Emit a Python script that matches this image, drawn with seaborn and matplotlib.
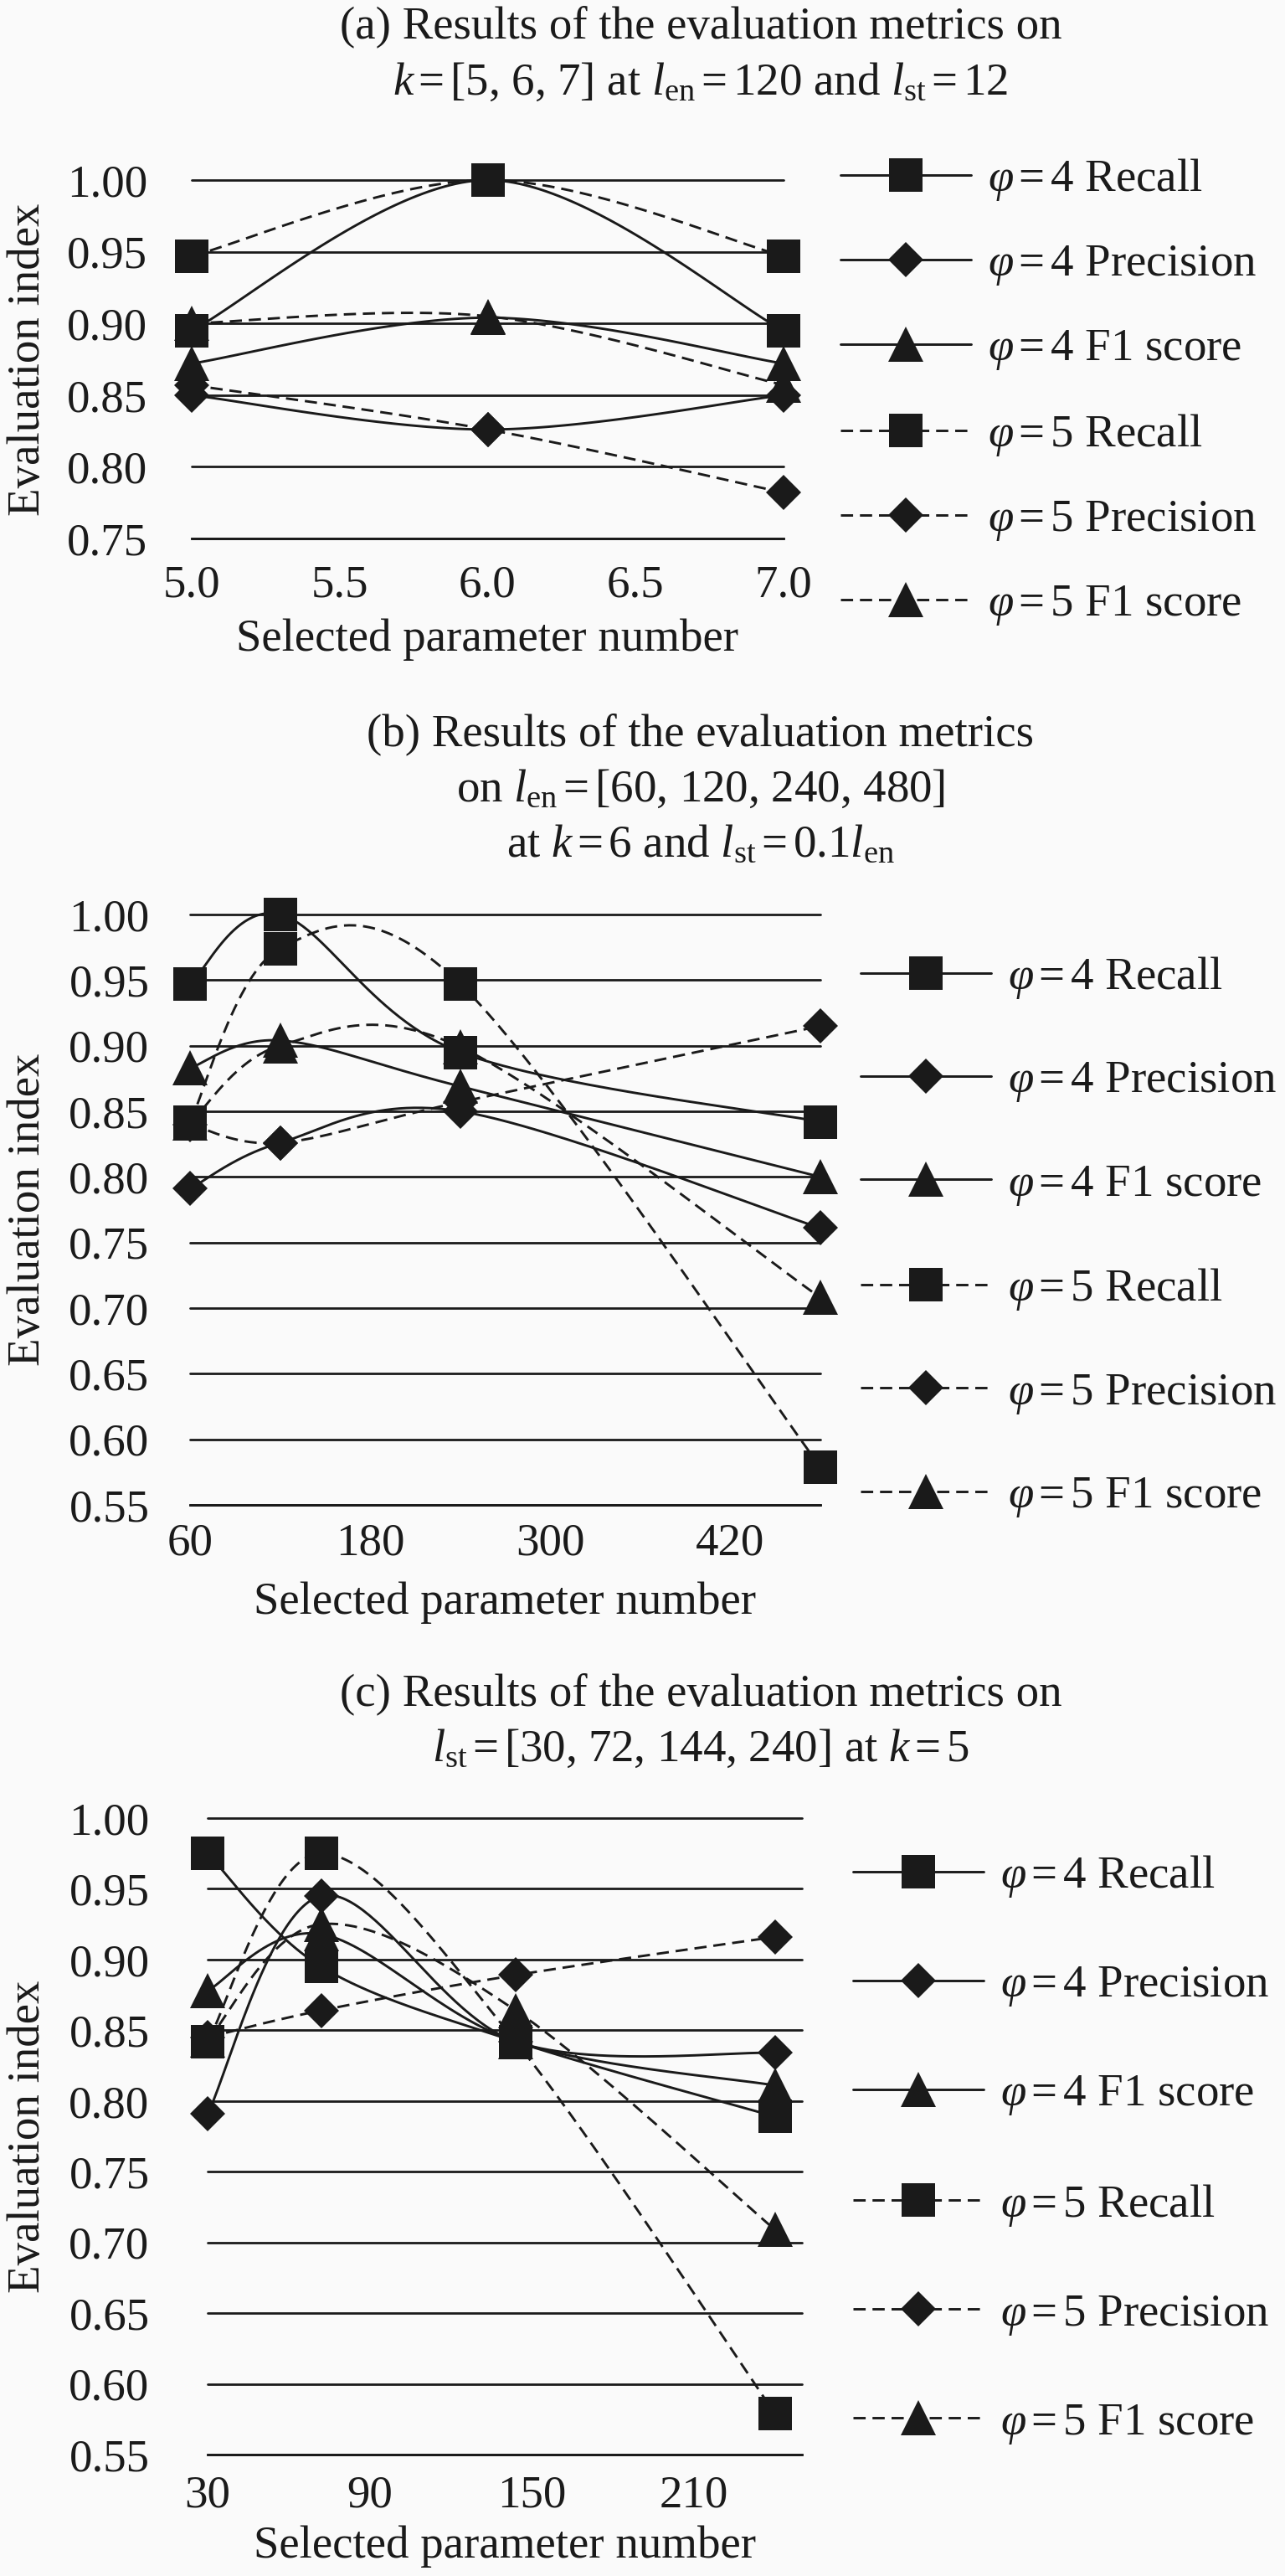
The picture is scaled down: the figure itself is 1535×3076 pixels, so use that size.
import numpy as np
import matplotlib
matplotlib.use("Agg")
import matplotlib.pyplot as plt
from matplotlib.lines import Line2D
import seaborn as sns
import pandas as pd

# ---------------- data ----------------
a_x = [5, 6, 7]
a_recall4 = [0.895, 1.000, 0.895]
a_prec4 = [0.850, 0.826, 0.850]
a_f14 = [0.872, 0.904, 0.872]
a_recall5 = [0.947, 1.000, 0.947]
a_prec5 = [0.857, 0.826, 0.782]
a_f15 = [0.900, 0.905, 0.857]

b_x = [60, 120, 240, 480]
b_recall4 = [0.947, 1.000, 0.895, 0.842]
b_prec4 = [0.791, 0.826, 0.850, 0.761]
b_f14 = [0.883, 0.904, 0.869, 0.800]
b_recall5 = [0.842, 0.974, 0.947, 0.579]
b_prec5 = [0.840, 0.826, 0.857, 0.915]
b_f15 = [0.841, 0.900, 0.899, 0.708]

c_x = [30, 72, 144, 240]
c_recall4 = [0.975, 0.895, 0.842, 0.789]
c_prec4 = [0.791, 0.945, 0.842, 0.834]
c_f14 = [0.878, 0.918, 0.842, 0.811]
c_recall5 = [0.842, 0.975, 0.842, 0.579]
c_prec5 = [0.845, 0.864, 0.889, 0.916]
c_f15 = [0.843, 0.925, 0.864, 0.709]

series_labels = [r"$\varphi\,$=$\,$4 Recall", r"$\varphi\,$=$\,$4 Precision", r"$\varphi\,$=$\,$4 F1 score",
                 r"$\varphi\,$=$\,$5 Recall", r"$\varphi\,$=$\,$5 Precision", r"$\varphi\,$=$\,$5 F1 score"]

a_xticks = [5.0, 5.5, 6.0, 6.5, 7.0]
a_xticklabels = ["5.0", "5.5", "6.0", "6.5", "7.0"]
b_xticks = [60, 180, 300, 420]
c_xticks = [30, 90, 150, 210]
a_yticks = [0.75, 0.80, 0.85, 0.90, 0.95, 1.00]
bc_yticks = [0.55, 0.60, 0.65, 0.70, 0.75, 0.80, 0.85, 0.90, 0.95, 1.00]

titles_a = ["(a) Results of the evaluation metrics on",
            r"$k\,$=$\,$[5, 6, 7] at $l_{\mathrm{en}}\,$=$\,$120 and $l_{\mathrm{st}}\,$=$\,$12"]
titles_b = ["(b) Results of the evaluation metrics",
            r"on $l_{\mathrm{en}}\,$=$\,$[60, 120, 240, 480]",
            r"at $k\,$=$\,$6 and $l_{\mathrm{st}}\,$=$\,$0.1$l_{\mathrm{en}}$"]
titles_c = ["(c) Results of the evaluation metrics on",
            r"$l_{\mathrm{st}}\,$=$\,$[30, 72, 144, 240] at $k\,$=$\,$5"]

# ---------------- style ----------------
sns.set_theme(style="white")
plt.rcParams['font.family'] = ['Liberation Serif', 'DejaVu Serif']
plt.rcParams['mathtext.fontset'] = 'custom'
plt.rcParams['mathtext.rm'] = 'Liberation Serif'
plt.rcParams['mathtext.it'] = 'Liberation Serif:italic'
plt.rcParams['mathtext.bf'] = 'Liberation Serif:bold'

FS = 39.5
FSPX = FS * 100 / 72.0
W, H = 1535, 3076
INK = '#1a1a1a'
BG = '#fafafa'
LW = 2.1
DASH = (0, (5, 2.8))
markers = ['s', 'D', '^', 's', 'D', '^']
msizes = {'s': 29, 'D': 21, '^': 30}
styles = ['-', '-', '-', DASH, DASH, DASH]


def smooth(x, y, n=60):
    pts = np.column_stack([np.asarray(x, float), np.asarray(y, float)])
    P = np.vstack([pts[0], pts, pts[-1]])
    out = []
    t = np.linspace(0, 1, n)[:, None]
    for i in range(1, len(P) - 2):
        p0, p1, p2, p3 = P[i - 1], P[i], P[i + 1], P[i + 2]
        b1 = p1 + (p2 - p0) / 6.0
        b2 = p2 - (p3 - p1) / 6.0
        seg = (1 - t) ** 3 * p1 + 3 * (1 - t) ** 2 * t * b1 + 3 * (1 - t) * t ** 2 * b2 + t ** 3 * p2
        out.append(seg if i == 1 else seg[1:])
    return np.vstack(out)


fig = plt.figure(figsize=(W / 100, H / 100), dpi=100, facecolor=BG)

panels = [
    dict(x=a_x, ys=[a_recall4, a_prec4, a_f14, a_recall5, a_prec5, a_f15],
         left=229, right=936, top=215, bottom=643, xlim=(5, 7), ylim=(0.75, 1.0),
         xticks=a_xticks, xticklabels=a_xticklabels, yticks=a_yticks,
         ypad=38, xpad=22, xlab_y=764, titles=titles_a, title_base=[45, 113],
         leg_x=1004, leg_top=187, leg_space=0.884),
    dict(x=b_x, ys=[b_recall4, b_prec4, b_f14, b_recall5, b_prec5, b_f15],
         left=227, right=980, top=1092, bottom=1797, xlim=(60, 480), ylim=(0.55, 1.0),
         xticks=b_xticks, xticklabels=[str(v) for v in b_xticks], yticks=bc_yticks,
         ypad=35, xpad=15, xlab_y=1914, titles=titles_b, title_base=[890, 957, 1023],
         leg_x=1028, leg_top=1140, leg_space=1.29),
    dict(x=c_x, ys=[c_recall4, c_prec4, c_f14, c_recall5, c_prec5, c_f15],
         left=248, right=958, top=2171, bottom=2931, xlim=(30, 250), ylim=(0.55, 1.0),
         xticks=c_xticks, xticklabels=[str(v) for v in c_xticks], yticks=bc_yticks,
         ypad=50, xpad=17, xlab_y=3041, titles=titles_c, title_base=[2036, 2103],
         leg_x=1019, leg_top=2213, leg_space=1.413),
]

for p in panels:
    ax = fig.add_axes([p['left'] / W, 1 - p['bottom'] / H,
                       (p['right'] - p['left']) / W, (p['bottom'] - p['top']) / H])
    ax.set_facecolor(BG)
    ax.set_xlim(*p['xlim'])
    ax.set_ylim(*p['ylim'])
    for s in ['left', 'right', 'top']:
        ax.spines[s].set_visible(False)
    ax.spines['bottom'].set_color(INK)
    ax.spines['bottom'].set_linewidth(2.0)
    ax.set_yticks(p['yticks'])
    ax.set_yticklabels([f"{v:.2f}" for v in p['yticks']])
    ax.set_xticks(p['xticks'])
    ax.set_xticklabels(p['xticklabels'])
    ax.tick_params(axis='y', length=0, pad=p['ypad'], labelsize=FS, labelcolor=INK)
    ax.tick_params(axis='x', direction='in', length=11, width=1.5, color=INK,
                   pad=p['xpad'], labelsize=FS, labelcolor=INK)
    ax.yaxis.grid(True, color=INK, linewidth=2.0)
    ax.xaxis.grid(False)
    for gl in ax.get_ygridlines():
        gl.set_clip_on(False)
    ax.set_axisbelow(True)

    for i, ys in enumerate(p['ys']):
        curve = smooth(p['x'], ys)
        df = pd.DataFrame({'x': curve[:, 0], 'y': curve[:, 1]})
        sns.lineplot(data=df, x='x', y='y', ax=ax, sort=False, estimator=None,
                     color=INK, linewidth=LW, linestyle=styles[i], zorder=3 + 2 * i,
                     legend=False)
        mk = markers[i]
        ax.plot(p['x'], ys, linestyle='none', marker=mk, markersize=msizes[mk],
                color=INK, markeredgewidth=0, clip_on=False, zorder=4 + 2 * i)
    for ln in ax.lines:
        ln.set_clip_on(False)

    ax.set_xlabel("Selected parameter number", fontsize=FS, color=INK)
    ax.xaxis.label.set_va('center')
    ax.xaxis.set_label_coords(0.5, (p['bottom'] - p['xlab_y']) / (p['bottom'] - p['top']))
    ax.set_ylabel("Evaluation index", fontsize=FS, color=INK)
    ax.yaxis.label.set_va('center')
    ax.yaxis.set_label_coords((34 - p['left']) / (p['right'] - p['left']), 0.5)

    for txt, yb in zip(p['titles'], p['title_base']):
        fig.text(837 / W, 1 - yb / H, txt, ha='center', va='baseline', fontsize=FS, color=INK)

    handles = [Line2D([], [], color=INK, linewidth=LW, linestyle=styles[i], marker=markers[i],
                      markersize=msizes[markers[i]], markeredgewidth=0)
               for i in range(6)]
    fig.legend(handles, series_labels, loc='upper left',
               bbox_to_anchor=(p['leg_x'] / W, 1 - p['leg_top'] / H),
               frameon=False, fontsize=FS, handlelength=156 / FSPX, handletextpad=20 / FSPX,
               labelspacing=p['leg_space'], borderpad=0, borderaxespad=0,
               labelcolor=INK)

fig.savefig("out.png", dpi=100, facecolor=BG)
